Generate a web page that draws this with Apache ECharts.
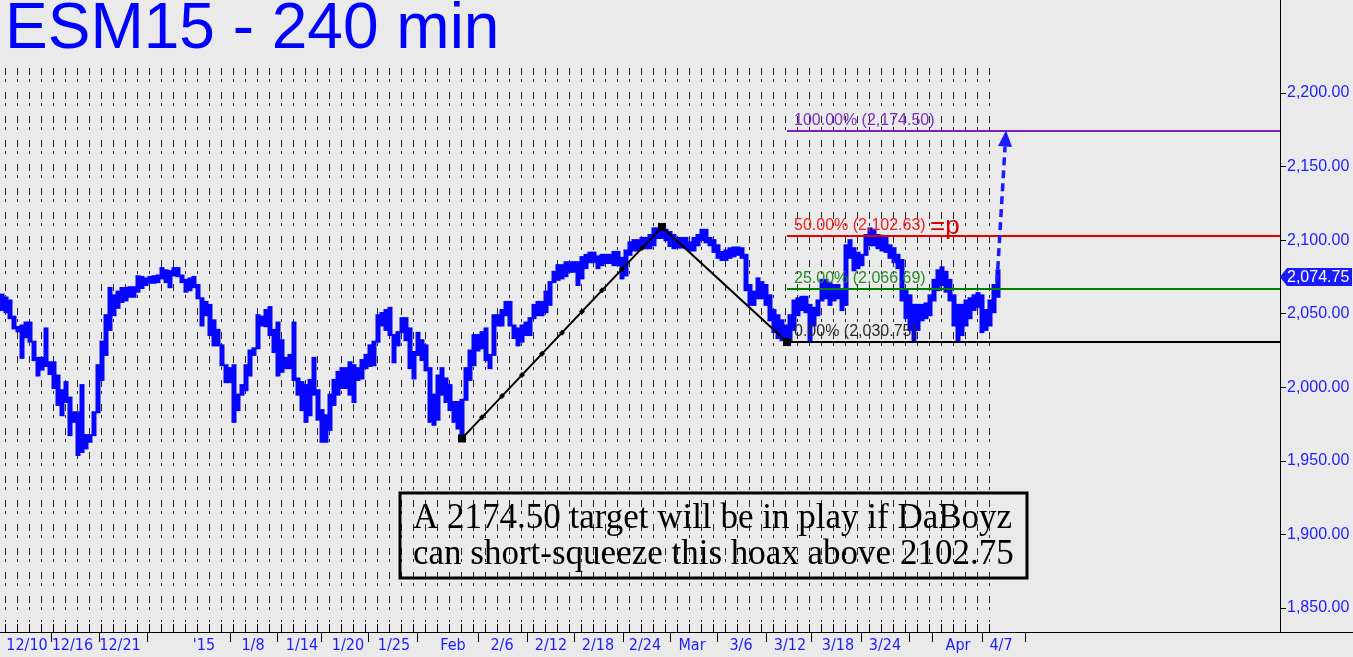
<!DOCTYPE html>
<html>
<head>
<meta charset="utf-8">
<script src="https://cdn.jsdelivr.net/npm/echarts@6/dist/echarts.min.js"></script>
<style>
html,body{margin:0;padding:0;background:#eaeaea;}
#chart{width:1353px;height:657px;}
</style>
</head>
<body>
<div id="chart"></div>
<script>
// ---- data (x unit = one sampling slot, ~1/3 trading day) ----
const priceHigh = [2063,2061,2059,2048,2041,2042,2044,2044,2031,2020,
2020,2040,2017,2017,2008,1998,2003.5,1993,1983,1983,
2001.5,1967.5,1967.5,1983,2015,2031,2049,2067.5,2062.5,2065,
2067.5,2067.5,2068,2068,2075.5,2075,2074,2075,2075.5,2076,
2081,2079.5,2079,2081,2081,2076,2073,2074,2075,2069.5,
2060.5,2058,2056,2045.5,2039,2026.5,2013,2013,2015,1995,
2001.5,2015,2025,2026.5,2049,2048,2052.5,2054.5,2039,2044,
2032,2020,2022,2044,2006,2003.5,2001.5,2005,2020,1998,
1984.5,1981,1995,2005,2010.5,2013,2013,2017,2015,2013,
2018.5,2022,2028.5,2031,2049,2050.5,2052.5,2054,2031,2037.5,
2047,2047,2040,2024,2037,2032,2028.5,2013,1995,2008,
2013,2006,2001.5,1990,1990,1991.5,2013,2025,2035.5,2035.5,
2037.5,2040,2022,2049,2049,2052.5,2058,2058,2042,2040,
2042,2044,2047,2056,2058,2058,2065,2071.5,2078.5,2083,
2083,2085,2085,2085,2085,2088.5,2090,2091.5,2091.5,2089,
2090,2090,2090,2092,2092,2088,2093,2098.5,2100,2100,2101.5,
2101.5,2103.5,2108,2108,2109,2107,2105.5,2103.5,2101.5,2101.5,
2101.5,2098.5,2101.5,2103.5,2107,2107,2101.5,2100,2096.5,2092,
2093,2094.5,2095,2095,2094.5,2090,2069.5,2065,2074,2071.5,
2069.5,2062.5,2052.5,2049,2045.5,2042,2049,2059,2060.5,2061.5,
2061.5,2056,2054,2059,2073,2073,2071,2069.5,2069.5,2066,
2096.5,2100,2094.5,2091.5,2090,2103.5,2108,2107,2103.5,2103,
2101.5,2096.5,2094.5,2090,2086.5,2066,2062.5,2056,2056,2056,
2057,2062.5,2073,2079.5,2081.5,2078.5,2073,2062.5,2056,2056,
2059,2060.5,2062.5,2064,2062.5,2052.5,2059,2069.5,2079.5];

const priceLow = [2052.5,2051,2047,2040,2038,2020,2034,2031,2018.5,2008,
2012,2014.5,2009,1999.5,1988,1981,1990,1967.5,1976.5,1954,
1956,1958.5,1963,1971,1997,2005,2022,2039,2049,2054,
2058,2059,2061.5,2061.5,2065,2067.5,2069.5,2071,2071,2071.5,
2074,2071.5,2068,2076,2075.5,2071.5,2065,2066,2068,2060.5,
2042,2049,2035.5,2028.5,2028.5,2015,2003.5,2003.5,1976.5,1984.5,
1995,1998,2008,2022,2032,2042,2041.5,2035.5,2024,2008,
2010.5,2013,2013,2005,1995,1984.5,1976.5,1981,1995,1978,
1963,1963,1971,1988,1995,1999.5,1999.5,1995,1990,2005,
2006,2013,2014.5,2015,2032,2042,2039,2035.5,2017,2028.5,
2040,2032,2013,2006,2022,2018.5,2011.5,1976.5,1974.5,1978,
1995,1990,1984.5,1976.5,1972,1965.25,1991.5,2005,2015,2025,
2026.5,2018.5,2013,2035.5,2042,2042,2049,2042,2033.5,2028.5,
2031,2035.5,2035.5,2049,2049,2049,2051,2056,2071.5,2073,
2074,2075.5,2078.5,2078.5,2069.5,2074,2081,2085,2085,2081,
2083,2084.5,2084.5,2083,2083,2074,2076,2090,2093,2093,2094.5,
2094.5,2094.5,2096.5,2101.5,2101.5,2100,2096,2094.5,2095,2095,
2094.5,2093,2093,2096.5,2100,2098.5,2096.5,2092,2088,2086.5,
2086.5,2088,2089,2090,2088,2066,2056,2056,2060.5,2060.5,
2056,2045.5,2037.5,2033.5,2032,2030.75,2032,2039,2049,2052.5,
2051,2032,2042,2049,2062.5,2060.5,2056,2059,2060.5,2052.5,
2056,2088,2079.5,2081,2083,2090,2096.5,2096.5,2094.5,2093,
2092,2088,2085,2081,2059,2047,2039,2032,2039,2045.5,
2047,2049,2059,2066,2069.5,2065,2059,2042,2032,2035.5,
2042,2047,2052.5,2054.5,2037.5,2039,2042,2051,2061.5];

const yTickValues = [1850,1900,1950,2000,2050,2100,2150,2200];
const xLabelText = ['12/10','12/16','12/21',"'15",'1/8','1/14','1/20','1/25','Feb','2/6','2/12','2/18','2/24','Mar','3/6','3/12','3/18','3/24','Apr','4/7'];
const xLabelPos = [6.25,17.6,29.5,50.5,62.75,75,86.5,98,112.75,125,137.25,149,160.75,172.5,184.75,197,209,220.75,239,249.75];
const xMajorTickPos = [12.25,24.25,36.25,57,68.75,79.75,91.5,103.75,119,131.25,143,155.25,167,178.75,191,202.25,214.75,226.75,232.5,245,255.75];

const abcPoints = [[115,1965.25],[165,2109.00],[196.25,2030.75]];
const fibText = ['100.00% (2,174.50)','50.00% (2,102.63)','25.00% (2,066.69)','0.00% (2,030.75)'];
const fibPrice = [2174.50,2102.63,2066.69,2030.75];
const fibLineColor = ['#7a1fc0','#e80000','#008000','#000000'];
const fibTextColor = ['#7b30c0','#f02020','#2a8a2a','#2a2a2a'];
const lastPrice = 2074.75;
const targetArrow = [[248.75,2071.5],[251,2174.5]];

// ---- layout ----
const X_MIN = -0.5, X_MAX = 319.5;
const Y_MIN = 1833.7, Y_MAX = 2263.2;
const dayGrid = [];
for (let k = 0; k <= 82; k++) dayGrid.push(0.75 + 3 * k);

const chart = echarts.init(document.getElementById('chart'));
const fmtPrice = v => v.toLocaleString('en-US',{minimumFractionDigits:2,maximumFractionDigits:2});

const option = {
  backgroundColor: '#eaeaea',
  animation: false,
  grid: {left: 0, right: 73, top: 0, bottom: 25},
  xAxis: [{
    type: 'value', min: X_MIN, max: X_MAX,
    axisLine: {show: false, onZero: false},
    axisTick: {show: true, inside: false, length: 10, customValues: xMajorTickPos, lineStyle: {color: '#000', width: 1}},
    axisLabel: {show: true, customValues: xLabelPos, margin: 6, color: '#1c1cff', fontSize: 16,
      fontFamily: '"Liberation Sans Narrow","Arial Narrow","DejaVu Sans Condensed",sans-serif',
      formatter: v => { const i = xLabelPos.indexOf(v); return i >= 0 ? xLabelText[i] : ''; }},
    splitLine: {show: false}
  }, {
    type: 'value', min: X_MIN, max: X_MAX, position: 'bottom',
    axisLine: {show: false, onZero: false},
    axisTick: {show: true, inside: true, length: 8, customValues: dayGrid, lineStyle: {color: '#000', width: 1}},
    axisLabel: {show: false},
    splitLine: {show: false}
  }],
  yAxis: {
    type: 'value', position: 'right', min: Y_MIN, max: Y_MAX,
    axisLine: {show: true, onZero: false, lineStyle: {color: '#000', width: 1}},
    axisTick: {show: true, length: 6, customValues: yTickValues, lineStyle: {color: '#000'}},
    axisLabel: {show: true, customValues: yTickValues, margin: 7, color: '#1c1cff', fontSize: 16,
      fontFamily: '"Liberation Sans",Arial,sans-serif', formatter: v => fmtPrice(v)},
    splitLine: {show: false}
  },
  graphic: [
    {type: 'text', left: 5, top: -2, z: 10, style: {text: 'ESM15 - 240 min', fill: '#0000ff', font: '64px "Liberation Sans", Arial, sans-serif'}},
    {type: 'line', z: 10, shape: {x1: 0, y1: 632.5, x2: 1353, y2: 632.5}, style: {stroke: '#000', lineWidth: 1}},
    {type: 'rect', z: 10, shape: {x: 400, y: 493, width: 627, height: 85}, style: {fill: 'none', stroke: '#000', lineWidth: 3}},
    {type: 'text', z: 10, x: 413, y: 519, style: {text: 'A 2174.50 target will be in play if DaBoyz', fill: '#000', font: '35px "Liberation Serif","Times New Roman",serif', verticalAlign: 'middle'}},
    {type: 'text', z: 10, x: 413, y: 555, style: {text: 'can short-squeeze this hoax above 2102.75', fill: '#000', font: '35px "Liberation Serif","Times New Roman",serif', verticalAlign: 'middle'}}
  ],
  series: [
    { // day grid
      type: 'custom', name: 'grid', silent: true, z: 1,
      data: dayGrid.map(u => [u]),
      renderItem: (params, api) => {
        const x = Math.round(api.coord([api.value(0), Y_MAX])[0]) + 0.5;
        return {type: 'line', shape: {x1: x, y1: 68, x2: x, y2: 622},
          style: {stroke: '#262626', lineWidth: 1, lineDash: [7, 4, 3, 10]}};
      }
    },
    { // price bars (each slot joined to the previous one so the trace is continuous)
      type: 'custom', name: 'ESM15', z: 3,
      data: priceHigh.map((h, i) => [i, h, priceLow[i], i > 0 ? priceHigh[i - 1] : h, i > 0 ? priceLow[i - 1] : priceLow[i]]),
      renderItem: (params, api) => {
        const u = api.value(0);
        let hi = api.value(1), lo = api.value(2);
        const ph = api.value(3), pl = api.value(4);
        if (hi < pl) hi = pl;
        if (lo > ph) lo = ph;
        const a = api.coord([u - 0.5, hi]);
        const b = api.coord([u + 0.5, lo]);
        let h = b[1] - a[1] + 2;
        let y = a[1] - 1;
        if (h < 4) { y -= (4 - h) / 2; h = 4; }
        return {type: 'rect', shape: {x: a[0] - 0.5, y: y, width: b[0] - a[0] + 1, height: h}, style: {fill: '#0505ff'}};
      }
    },
    { // fib levels
      type: 'custom', name: 'fib', z: 4, clip: false,
      data: fibPrice.map((p, i) => [abcPoints[2][0], p, i]),
      renderItem: (params, api) => {
        const i = api.value(2);
        const s = api.coord([api.value(0), api.value(1)]);
        const e = api.coord([X_MAX, api.value(1)]);
        const y = Math.round(s[1]);
        const children = [
          {type: 'line', shape: {x1: s[0], y1: y, x2: e[0], y2: y}, style: {stroke: fibLineColor[i], lineWidth: 2}},
          {type: 'text', x: s[0] + 7, y: y - 2, style: {text: fibText[i], fill: fibTextColor[i], font: '16px "Liberation Sans",Arial,sans-serif', align: 'left', verticalAlign: 'bottom'}}
        ];
        if (i === 1) {
          children.push({type: 'text', x: s[0] + 143, y: y + 4, style: {text: '=p', fill: '#d80000', font: '26px "Liberation Sans",Arial,sans-serif', align: 'left', verticalAlign: 'bottom'}});
        }
        return {type: 'group', children};
      }
    },
    { // A-B-C swing
      type: 'line', name: 'ABC', z: 5,
      data: abcPoints, symbol: 'rect', symbolSize: 8, showSymbol: true,
      itemStyle: {color: '#000'}, lineStyle: {color: '#000', width: 2}
    },
    { // tick marks along A-B leg
      type: 'custom', name: 'ABticks', z: 5,
      data: [[abcPoints[0][0], abcPoints[0][1], abcPoints[1][0], abcPoints[1][1]]],
      renderItem: (params, api) => {
        const a = api.coord([api.value(0), api.value(1)]);
        const b = api.coord([api.value(2), api.value(3)]);
        const ch = [];
        for (let k = 1; k < 10; k++) {
          const x = a[0] + (b[0] - a[0]) * k / 10, y = a[1] + (b[1] - a[1]) * k / 10;
          ch.push({type: 'polygon', shape: {points: [[x, y - 3], [x + 3, y], [x, y + 3], [x - 3, y]]}, style: {fill: '#000'}});
        }
        return {type: 'group', children: ch};
      }
    },
    { // projected target arrow
      type: 'custom', name: 'target', z: 6, clip: false,
      data: [[targetArrow[0][0], targetArrow[0][1], targetArrow[1][0], targetArrow[1][1]]],
      renderItem: (params, api) => {
        const s = api.coord([api.value(0), api.value(1)]);
        const t = api.coord([api.value(2), api.value(3)]);
        const dx = t[0] - s[0], dy = t[1] - s[1];
        const len = Math.sqrt(dx * dx + dy * dy);
        const ux = dx / len, uy = dy / len;
        const hl = 16, hw = 7;
        const bx = t[0] - ux * hl, by = t[1] - uy * hl;
        return {type: 'group', children: [
          {type: 'line', shape: {x1: s[0], y1: s[1], x2: bx, y2: by}, style: {stroke: '#1a1aff', lineWidth: 3.5, lineDash: [8, 5]}},
          {type: 'polygon', shape: {points: [[t[0], t[1]], [bx - uy * hw, by + ux * hw], [bx + uy * hw, by - ux * hw]]}, style: {fill: '#1a1aff'}}
        ]};
      }
    },
    { // last price tag
      type: 'custom', name: 'last', z: 7, clip: false,
      data: [[X_MAX, lastPrice]],
      renderItem: (params, api) => {
        const p = api.coord([api.value(0), api.value(1)]);
        const x = p[0], y = Math.round(p[1]);
        return {type: 'group', children: [
          {type: 'polygon', shape: {points: [[x, y], [x + 7, y - 9], [1352, y - 9], [1352, y + 9], [x + 7, y + 9]]}, style: {fill: '#1a1aff'}},
          {type: 'text', x: x + 7, y: y + 1, style: {text: fmtPrice(api.value(1)), fill: '#ffffff', font: '16px "Liberation Sans",Arial,sans-serif', align: 'left', verticalAlign: 'middle'}}
        ]};
      }
    }
  ]
};
chart.setOption(option);
</script>
</body>
</html>
